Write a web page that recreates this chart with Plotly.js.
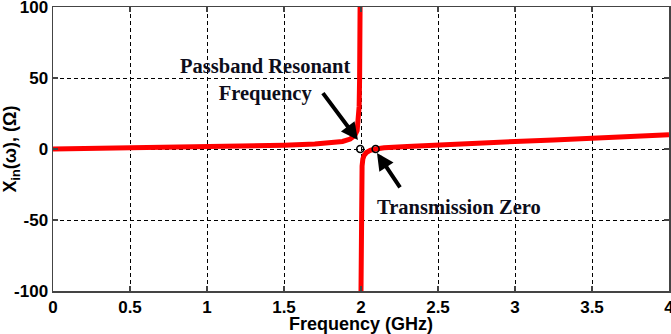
<!DOCTYPE html>
<html>
<head>
<meta charset="utf-8">
<script src="https://cdn.plot.ly/plotly-3.0.1.min.js"></script>
<style>html,body{margin:0;padding:0;background:#fff;}#chart{width:671px;height:334px;}</style>
</head>
<body>
<div id="chart"></div>
<script>
// Lower-frequency branch (below the pole)
var freqLow = [0, 0.25, 0.5, 0.75, 1.0, 1.25, 1.5, 1.7, 1.8, 1.88, 1.93, 1.96, 1.975, 1.983, 1.988, 1.991, 1.993, 1.994];
var xinLow  = [0, 0.3, 0.7, 1.1, 1.5, 2.0, 2.7, 3.5, 4.3, 5.3, 7.0, 9.5, 13, 20, 30, 50, 80, 100];
// Upper-frequency branch (above the pole)
var freqHigh = [2.0, 2.001, 2.002, 2.004, 2.007, 2.012, 2.02, 2.035, 2.06, 2.095, 2.15, 2.3, 2.5, 2.75, 3.0, 3.25, 3.5, 3.75, 4.0];
var xinHigh  = [-100, -60, -35, -20, -12, -7, -4.5, -2.5, -1, 0, 0.8, 1.8, 3.0, 4.2, 5.3, 6.3, 7.3, 8.5, 10];
// Marked points: passband resonance and transmission zero
var markFreq = [1.995, 2.095];
var markXin  = [0, 0];
var xTicks = [0, 0.5, 1, 1.5, 2, 2.5, 3, 3.5, 4];
var xTickText = ['0', '0.5', '1', '1.5', '2', '2.5', '3', '3.5', '4'];
var yTicks = [-100, -50, 0, 50, 100];
var yTickText = ['-100', '-50', '0', '50', '100'];

var lineStyle = {color: '#ff0000', width: 5};
var traces = [
  {x: freqLow, y: xinLow, mode: 'lines', line: lineStyle, hoverinfo: 'skip'},
  {x: freqHigh, y: xinHigh, mode: 'lines', line: lineStyle, hoverinfo: 'skip'},
  {x: markFreq, y: markXin, mode: 'markers', marker: {symbol: 'circle-open', size: 7, color: '#000', line: {width: 1.6, color: '#000'}}, hoverinfo: 'skip'}
];

var tickFont = {family: 'Liberation Sans, Arial, sans-serif', size: 17, color: '#000', weight: 'bold'};
var annFont = {family: 'Liberation Serif, Times New Roman, serif', size: 20.5, color: '#0d0d1a', weight: 'bold'};

var axisCommon = {
  showline: true, linecolor: '#444', linewidth: 1.5, mirror: 'ticks',
  ticks: 'inside', ticklen: 5, tickcolor: '#444', tickwidth: 1.5,
  showgrid: true, gridcolor: '#000', gridwidth: 1, griddash: '4px,3px',
  zeroline: false, tickfont: tickFont, fixedrange: true,
  ticklabeloverflow: 'allow'
};

var layout = {
  width: 671, height: 334,
  margin: {l: 53, r: 2, t: 7, b: 43},
  paper_bgcolor: '#fff', plot_bgcolor: '#fff',
  showlegend: false,
  xaxis: Object.assign({}, axisCommon, {
    range: [0, 4], tickmode: 'array', tickvals: xTicks, ticktext: xTickText,
    title: {text: 'Frequency (GHz)', font: {family: 'Liberation Sans, Arial, sans-serif', size: 18, color: '#000', weight: 'bold'}, standoff: 0}
  }),
  yaxis: Object.assign({}, axisCommon, {
    range: [-100, 100], tickmode: 'array', tickvals: yTicks, ticktext: yTickText,
    title: {text: 'X<sub>in</sub>(ω), (Ω)', font: {family: 'Liberation Sans, Arial, sans-serif', size: 18, color: '#000', weight: 'bold'}, standoff: 2}
  }),
  annotations: [
    {x: 1.377, y: 48.9, xref: 'x', yref: 'y', text: 'Passband Resonant<br>Frequency', showarrow: false, font: annFont, align: 'center'},
    {x: 2.636, y: -40.8, xref: 'x', yref: 'y', text: 'Transmission Zero', showarrow: false, font: annFont},
    {x: 1.98, y: 6.3, xref: 'x', yref: 'y', text: ' ', showarrow: true, arrowhead: 2, arrowsize: 0.85, arrowwidth: 4, arrowcolor: '#000', ax: -38, ay: -51, standoff: 0},
    {x: 2.104, y: -2.8, xref: 'x', yref: 'y', text: ' ', showarrow: true, arrowhead: 2, arrowsize: 0.85, arrowwidth: 4, arrowcolor: '#000', ax: 26, ay: 39, standoff: 0}
  ]
};

Plotly.newPlot('chart', traces, layout, {staticPlot: true, displayModeBar: false});
</script>
</body>
</html>
